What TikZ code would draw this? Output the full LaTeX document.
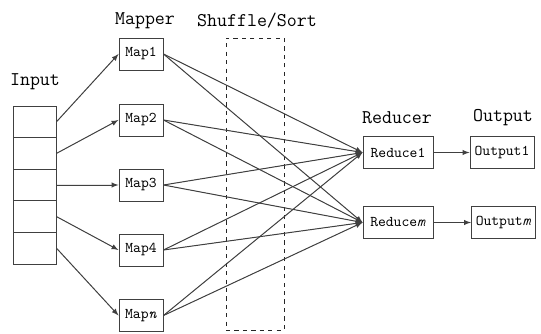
\documentclass[tikz,border=0pt]{standalone}
\usetikzlibrary{arrows,positioning}

\begin{document}
\begin{tikzpicture}[x=0.025cm, y=-0.025cm,
    cell/.style={draw=black!75, line width=0.7pt, minimum width=1.075cm, minimum height=0.79cm, inner sep=0pt},
    mapbox/.style={draw=black!75, line width=0.7pt, minimum width=1.1cm, minimum height=0.8cm, inner sep=0pt, font=\ttfamily\fontsize{10.6}{12}\selectfont},
    redbox/.style={mapbox, minimum width=1.75cm},
    outbox/.style={mapbox, minimum width=1.6cm},
    title/.style={font=\ttfamily\fontsize{13.8}{16}\selectfont, inner sep=0pt},
    link/.style={-latex, line width=0.7pt, draw=black!75, fill=black!75}]
    \useasboundingbox (0,0) rectangle (541,334);

    % column titles
    \node[title] (mapper) at (145,21) {Mapper};
    \node[title] (shuffle) at (257,21) {Shuffle/Sort};
    \node[title] (input) at (35,82) {Input};
    \node[title] (reducer) at (397,118) {Reducer};
    \node[title] (output) at (503,118) {Output};

    % shuffle/sort region
    \node[draw=black!85, dashed, line width=0.6pt, minimum width=1.45cm, minimum height=7.3cm, inner sep=0pt] (sortbox) at (255,184) {};

    % input splits
    \foreach \i in {1,...,5} {
        \node[cell] (in\i) at (34.5, 90.2+31.6*\i) {};
    }

    \node[mapbox] (map1) at (141,54) {Map1};
    \node[mapbox] (map2) at (141,120) {Map2};
    \node[mapbox] (map3) at (141,185) {Map3};
    \node[mapbox] (map4) at (141,250) {Map4};
    \node[mapbox] (map5) at (141,315.5) {Map\textit{n}};

    \node[redbox] (red1) at (398,152.5) {Reduce1};
    \node[redbox] (redm) at (398,222.5) {Reduce\textit{m}};

    \node[outbox] (out1) at (502,152.5) {Output1};
    \node[outbox] (outm) at (503.5,222.5) {Output\textit{m}};

    \draw[link] (in1.east) -- (map1.west);
    \draw[link] (in2.east) -- (map2.west);
    \draw[link] (in3.east) -- (map3.west);
    \draw[link] (in4.east) -- (map4.west);
    \draw[link] (in5.east) -- (map5.west);

    \foreach \m in {1,...,5} {
        \draw[link] (map\m.east) -- (red1.west);
        \draw[link] (map\m.east) -- (redm.west);
    }

    \draw[link] (red1) -- (out1);
    \draw[link] (redm) -- (outm);
\end{tikzpicture}
\end{document}
